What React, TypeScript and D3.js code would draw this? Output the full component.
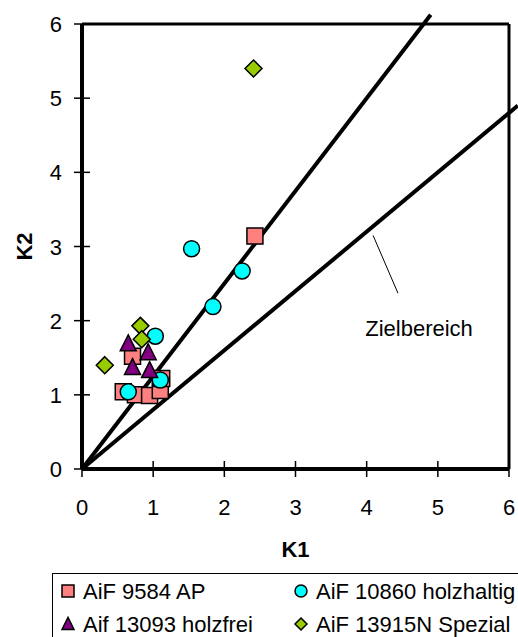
import React, { useEffect, useRef } from "react";
import * as d3 from "d3";

// K1 / K2 pairs per series
const ap9584: [number, number][] = [
  [2.43, 3.14], [0.71, 1.52], [0.58, 1.04], [0.75, 1.0], [0.95, 0.99], [1.1, 1.06], [1.12, 1.22],
];
const holzhaltig10860: [number, number][] = [
  [1.54, 2.97], [2.25, 2.67], [1.84, 2.19], [1.03, 1.79], [1.1, 1.2], [0.65, 1.04],
];
const holzfrei13093: [number, number][] = [
  [0.65, 1.69], [0.93, 1.57], [0.71, 1.37], [0.95, 1.33],
];
const spezial13915: [number, number][] = [
  [2.41, 5.4], [0.82, 1.93], [0.84, 1.75], [0.32, 1.4],
];

const seriesNames = ["AiF 9584 AP", "AiF 10860 holzhaltig", "Aif 13093 holzfrei", "AiF 13915N Spezial"];
const xTicks = [0, 1, 2, 3, 4, 5, 6];
const yTicks = [0, 1, 2, 3, 4, 5, 6];

// target range boundaries K2 = 1.25*K1 and K2 = 0.8*K1
const upperLine: [number, number][] = [[0, 0], [4.9, 6.125]];
const lowerLine: [number, number][] = [[0, 0], [6.125, 4.9]];
const leaderLine: [number, number][] = [[4.09, 3.15], [4.44, 2.37]];
const zielLabel = { k1: 3.98, k2: 1.8, text: "Zielbereich" };

const FONT = "'Liberation Sans', Arial, sans-serif";

function markerPath(shape: string, s: number): string {
  const h = s / 2;
  if (shape === "square") return `M${-h},${-h}H${h}V${h}H${-h}Z`;
  if (shape === "circle") return `M${h},0A${h},${h} 0 1,1 ${-h},0A${h},${h} 0 1,1 ${h},0Z`;
  if (shape === "triangle") return `M0,${-h * 1.1}L${h},${h * 0.9}L${-h},${h * 0.9}Z`;
  return `M0,${-h}L${h},0L0,${h}L${-h},0Z`;
}

export default function App() {
  const ref = useRef<SVGSVGElement>(null);

  useEffect(() => {
    const svg = d3.select(ref.current);
    svg.selectAll("*").remove();

    const left = 82, right = 509, top = 24, bottom = 469;

    const x = d3.scaleLinear().domain([0, 6]).range([left, right]);
    const y = d3.scaleLinear().domain([0, 6]).range([bottom, top]);

    // boundary lines (drawn under the markers)
    const line = d3.line<[number, number]>().x(d => x(d[0])).y(d => y(d[1]));
    [upperLine, lowerLine].forEach(l => {
      svg.append("path").attr("d", line(l)).attr("fill", "none")
        .attr("stroke", "#000").attr("stroke-width", 4);
    });
    svg.append("path").attr("d", line(leaderLine)).attr("fill", "none")
      .attr("stroke", "#000").attr("stroke-width", 1);

    svg.append("text")
      .attr("x", x(zielLabel.k1)).attr("y", y(zielLabel.k2))
      .attr("font-family", FONT).attr("font-size", 22)
      .text(zielLabel.text);

    // frame
    svg.append("line").attr("x1", left).attr("x2", right).attr("y1", top).attr("y2", top)
      .attr("stroke", "#000").attr("stroke-width", 3);
    svg.append("line").attr("x1", right).attr("x2", right).attr("y1", top).attr("y2", bottom)
      .attr("stroke", "#000").attr("stroke-width", 3);

    // axes with ticks crossing the lines
    const xAxis = svg.append("g");
    xAxis.append("line").attr("x1", left).attr("x2", right).attr("y1", bottom).attr("y2", bottom)
      .attr("stroke", "#000").attr("stroke-width", 4);
    xAxis.selectAll("line.tick").data(xTicks).join("line").attr("class", "tick")
      .attr("x1", d => x(d)).attr("x2", d => x(d)).attr("y1", bottom - 8).attr("y2", bottom + 8)
      .attr("stroke", "#000").attr("stroke-width", 1.5);
    xAxis.selectAll("text").data(xTicks).join("text")
      .attr("x", d => x(d)).attr("y", bottom + 46)
      .attr("text-anchor", "middle").attr("font-family", FONT).attr("font-size", 22)
      .text(d => d);

    const yAxis = svg.append("g");
    yAxis.append("line").attr("x1", left).attr("x2", left).attr("y1", top).attr("y2", bottom)
      .attr("stroke", "#000").attr("stroke-width", 4);
    yAxis.selectAll("line.tick").data(yTicks).join("line").attr("class", "tick")
      .attr("x1", left - 8).attr("x2", left + 8).attr("y1", d => y(d)).attr("y2", d => y(d))
      .attr("stroke", "#000").attr("stroke-width", 1.5);
    yAxis.selectAll("text").data(yTicks).join("text")
      .attr("x", left - 20).attr("y", d => y(d) + 8)
      .attr("text-anchor", "end").attr("font-family", FONT).attr("font-size", 22)
      .text(d => d);

    svg.append("text")
      .attr("x", (left + right) / 2).attr("y", 557)
      .attr("text-anchor", "middle").attr("font-family", FONT).attr("font-size", 22)
      .attr("font-weight", "bold").text("K1");
    svg.append("text")
      .attr("transform", `translate(32, ${(top + bottom) / 2}) rotate(-90)`)
      .attr("text-anchor", "middle").attr("font-family", FONT).attr("font-size", 22)
      .attr("font-weight", "bold").text("K2");

    // markers
    const series = [
      { data: ap9584, shape: "square", fill: "#FF8080", size: 16 },
      { data: holzhaltig10860, shape: "circle", fill: "#00FFFF", size: 16 },
      { data: holzfrei13093, shape: "triangle", fill: "#800080", size: 16 },
      { data: spezial13915, shape: "diamond", fill: "#99CC00", size: 17 },
    ];
    series.forEach(s => {
      svg.append("g").selectAll("path").data(s.data).join("path")
        .attr("transform", d => `translate(${x(d[0])},${y(d[1])})`)
        .attr("d", markerPath(s.shape, s.size))
        .attr("fill", s.fill).attr("stroke", "#000").attr("stroke-width", 1.5);
    });

    // legend
    const lg = svg.append("g");
    lg.append("rect").attr("x", 52.5).attr("y", 573.5).attr("width", 500).attr("height", 100)
      .attr("fill", "#fff").attr("stroke", "#000").attr("stroke-width", 1);
    const cols = [68, 301];
    const rows = [591, 624];
    series.forEach((s, i) => {
      const cx = cols[i % 2], cy = rows[Math.floor(i / 2)];
      lg.append("path").attr("transform", `translate(${cx},${cy})`)
        .attr("d", markerPath(s.shape, 12))
        .attr("fill", s.fill).attr("stroke", "#000").attr("stroke-width", 1.5);
      lg.append("text").attr("x", cx + 15).attr("y", cy + 8)
        .attr("font-family", FONT).attr("font-size", 22).text(seriesNames[i]);
    });
  }, []);

  return (
    <svg ref={ref} width={518} height={637}
      style={{ position: "absolute", left: 0, top: 0, background: "#fff" }} />
  );
}
